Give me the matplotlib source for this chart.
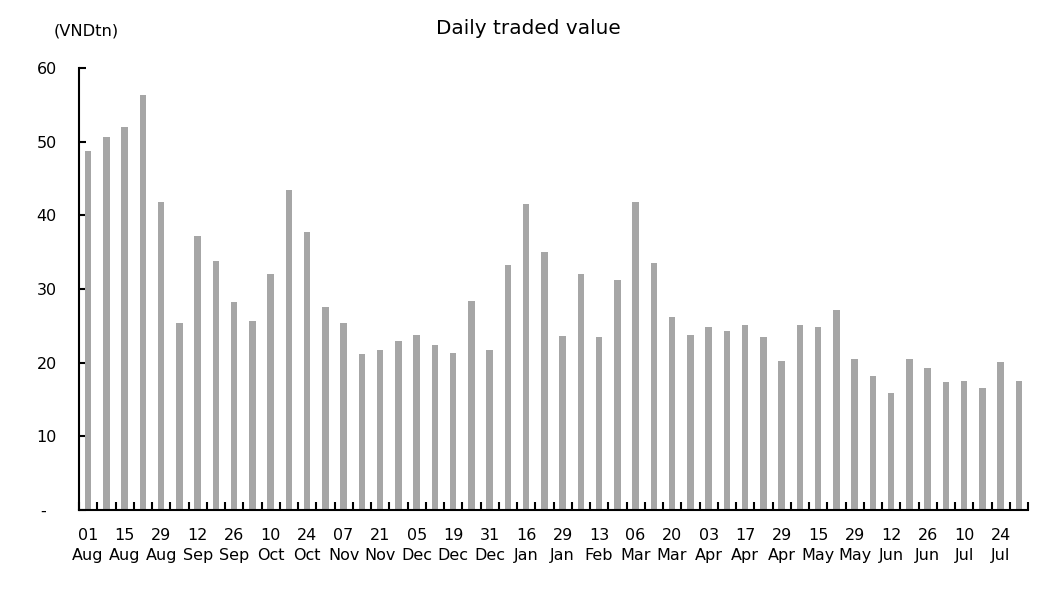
import matplotlib
matplotlib.use("Agg")
import matplotlib.pyplot as plt
import numpy as np

labels = ["01\nAug", "15\nAug", "29\nAug", "12\nSep", "26\nSep", "10\nOct", "24\nOct",
          "07\nNov", "21\nNov", "05\nDec", "19\nDec", "31\nDec", "16\nJan", "29\nJan",
          "13\nFeb", "06\nMar", "20\nMar", "03\nApr", "17\nApr", "29\nApr", "15\nMay",
          "29\nMay", "12\nJun", "26\nJun", "10\nJul", "24\nJul"]

values = [48.8, 50.7, 52.0, 56.4, 41.8, 25.4, 37.2, 33.8, 28.2, 25.6,
          32.0, 43.5, 37.8, 27.6, 25.4, 21.2, 21.7, 22.9, 23.8, 22.4,
          21.3, 28.4, 21.7, 33.2, 41.5, 35.0, 23.6, 32.1, 23.5, 31.2,
          41.8, 33.5, 26.2, 23.8, 24.8, 24.3, 25.1, 23.5, 20.2, 25.1,
          24.9, 27.2, 20.5, 18.2, 15.9, 20.5, 19.3, 17.4, 17.5, 16.6,
          20.1, 17.5]

yticks = [0, 10, 20, 30, 40, 50, 60]
ytick_labels = ["-  ", "10", "20", "30", "40", "50", "60"]

plt.rcParams['font.family'] = ['DejaVu Sans']

fig = plt.figure(figsize=(10.58, 6.07), dpi=100)
ax = fig.add_axes([79/1058, 1-510/607, (1028-79)/1058, (510-68)/607])

x = np.arange(len(values))
ax.bar(x, values, width=0.35, color="#A6A6A6", zorder=2)

ax.set_xlim(-0.5, len(values) - 0.5)
ax.set_ylim(0, 60)

ax.set_xticks(x[::2])
ax.set_xticklabels(labels, fontsize=11.5, linespacing=1.4)
ax.set_xticks(np.arange(-0.5, len(values), 1.0), minor=True)
ax.tick_params(axis='x', which='major', length=0, pad=13)
ax.tick_params(axis='x', which='minor', direction='in', length=6, width=1.5)

ax.set_yticks(yticks)
ax.set_yticklabels(ytick_labels, fontsize=11.5)
ax.tick_params(axis='y', direction='in', length=5, width=1.5, pad=16)

for s in ['top', 'right']:
    ax.spines[s].set_visible(False)
for s in ['left', 'bottom']:
    ax.spines[s].set_linewidth(1.5)

fig.text(528/1058, 1-28/607, "Daily traded value", ha='center', va='center', fontsize=14.4)
fig.text(86/1058, 1-31/607, "(VNDtn)", ha='center', va='center', fontsize=11.7)

fig.savefig("out.png", dpi=100)
